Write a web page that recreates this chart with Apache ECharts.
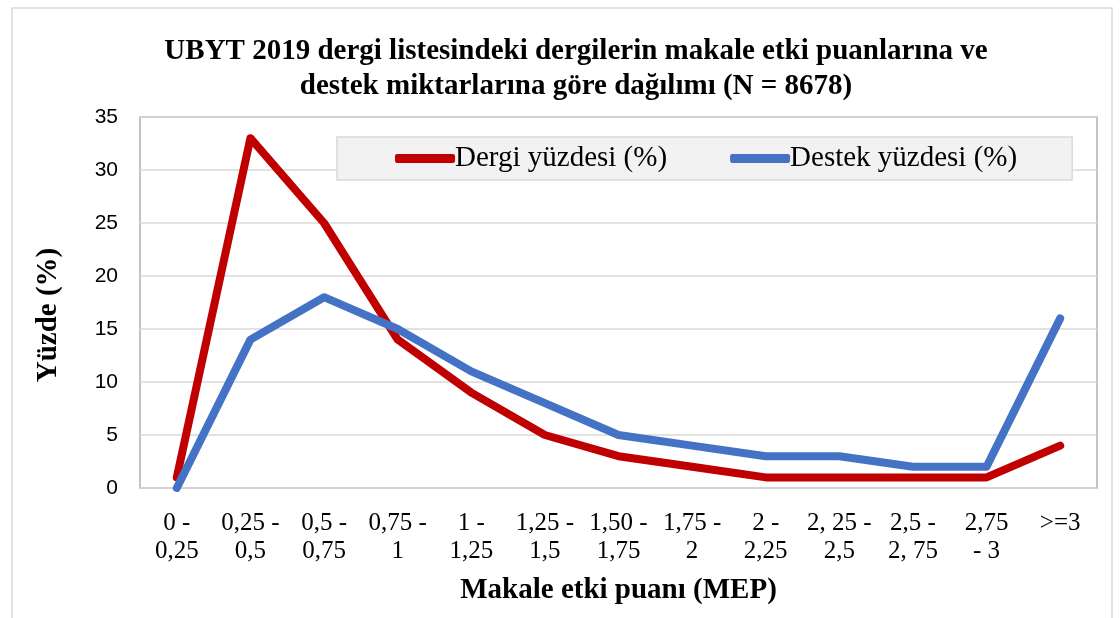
<!DOCTYPE html>
<html>
<head>
<meta charset="utf-8">
<script src="https://cdn.jsdelivr.net/npm/echarts@6/dist/echarts.min.js"></script>
<style>
    html, body { margin: 0; padding: 0; background: #fff; }
    #chart { width: 1120px; height: 618px; }
</style>
</head>
<body>
<div id="chart"></div>
<script>
// MEP aralıkları (x ekseni)
var categories = ['0 -\n0,25', '0,25 -\n0,5', '0,5 -\n0,75', '0,75 -\n1', '1 -\n1,25', '1,25 -\n1,5',
    '1,50 -\n1,75', '1,75 -\n2', '2 -\n2,25', '2, 25 -\n2,5', '2,5 -\n2, 75', '2,75\n- 3', '>=3'];
var dergiValues = [1, 33, 25, 14, 9, 5, 3, 2, 1, 1, 1, 1, 4]; // Dergi yüzdesi (%)
var destekValues = [0, 14, 18, 15, 11, 8, 5, 4, 3, 3, 2, 2, 16]; // Destek yüzdesi (%)
var yTicks = [0, 5, 10, 15, 20, 25, 30, 35];

var serif = '"Liberation Serif", "DejaVu Serif", serif';
var sans = '"Liberation Sans", "Noto Sans", sans-serif';

var option = {
    backgroundColor: '#fff',
    animation: false,
    title: {
        text: 'UBYT 2019 dergi listesindeki dergilerin makale etki puanlarına ve\ndestek miktarlarına göre dağılımı (N = 8678)',
        left: 571,
        textAlign: 'center',
        top: 29,
        textStyle: {
            fontFamily: serif,
            fontSize: 29,
            fontWeight: 'bold',
            color: '#000',
            lineHeight: 35
        }
    },
    // sağ üstteki gösterge kutusu
    legend: {
        left: 337,
        top: 137,
        padding: [7, 55, 7, 58],
        itemGap: 63,
        itemWidth: 60,
        itemHeight: 9,
        backgroundColor: '#f2f2f2',
        borderColor: '#d9d9d9',
        borderWidth: 1.5,
        icon: 'roundRect',
        textStyle: {
            fontFamily: serif,
            fontSize: 29,
            color: '#000',
            padding: [0, 0, 0, -5]
        },
        data: ['Dergi yüzdesi (%)', 'Destek yüzdesi (%)']
    },
    grid: {
        left: 140,
        right: 23,
        top: 117,
        bottom: 130,
        show: true,
        borderColor: '#b0b0b0',
        borderWidth: 1.5
    },
    xAxis: {
        type: 'category',
        data: categories,
        boundaryGap: true,
        name: 'Makale etki puanı (MEP)',
        nameLocation: 'middle',
        nameGap: 88,
        nameTextStyle: {
            fontFamily: serif,
            fontSize: 29,
            fontWeight: 'bold',
            color: '#000'
        },
        axisLine: { show: false },
        axisTick: { show: false },
        axisLabel: {
            interval: 0,
            margin: 21,
            fontFamily: serif,
            fontSize: 25,
            lineHeight: 28,
            color: '#000'
        }
    },
    yAxis: {
        type: 'value',
        min: yTicks[0],
        max: yTicks[yTicks.length - 1],
        interval: 5,
        name: 'Yüzde (%)',
        nameLocation: 'middle',
        nameGap: 77,
        nameTextStyle: {
            fontFamily: serif,
            fontSize: 29,
            fontWeight: 'bold',
            color: '#000',
            padding: [0, 25, 0, 0]
        },
        axisLine: { show: false },
        axisTick: { show: false },
        axisLabel: {
            margin: 22,
            fontFamily: sans,
            fontSize: 21,
            color: '#000'
        },
        splitLine: {
            lineStyle: { color: '#d9d9d9', width: 1.5 }
        }
    },
    series: [
        {
            name: 'Dergi yüzdesi (%)',
            type: 'line',
            data: dergiValues,
            symbol: 'none',
            color: '#c00000',
            lineStyle: { width: 8, cap: 'round', join: 'round' },
            z: 3
        },
        {
            name: 'Destek yüzdesi (%)',
            type: 'line',
            data: destekValues,
            symbol: 'none',
            color: '#4472c4',
            lineStyle: { width: 8, cap: 'round', join: 'round' },
            z: 4
        }
    ],
    graphic: [
        {
            // dış çerçeve
            type: 'rect',
            shape: { x: 12, y: 8, width: 1100, height: 640 },
            style: { fill: 'none', stroke: '#d9d9d9', lineWidth: 1.5 },
            silent: true,
            z: -1
        }
    ]
};

echarts.init(document.getElementById('chart')).setOption(option);
</script>
</body>
</html>
